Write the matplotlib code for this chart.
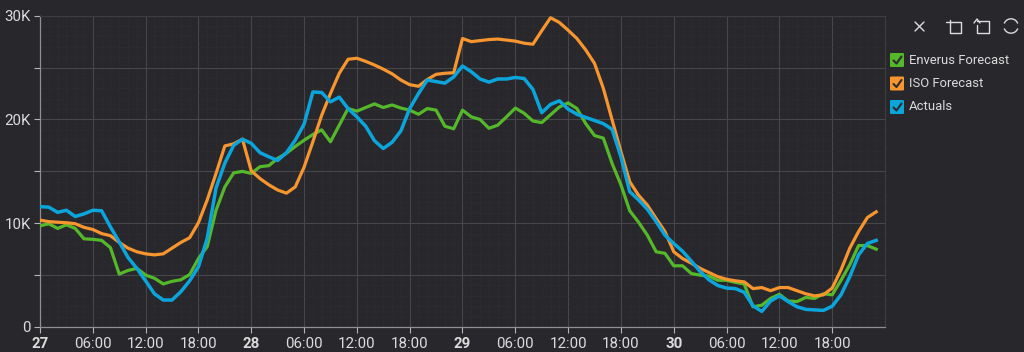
import matplotlib
matplotlib.use("Agg")
import matplotlib.pyplot as plt
from matplotlib.lines import Line2D
from matplotlib.patches import FancyBboxPatch, Arc
from matplotlib.ticker import FuncFormatter, MultipleLocator

plt.rcParams['font.family'] = ['Roboto', 'DejaVu Sans']

BG = '#28272c'
TEXT = '#dcdcdc'

# hourly values in thousands, starting at 00:00 on the 27th
actuals = [11.6, 11.55, 11.05, 11.25, 10.65, 10.9, 11.25, 11.2, 9.65, 8.2, 6.7, 5.65,
           4.45, 3.2, 2.6, 2.6, 3.4, 4.45, 5.8, 8.55, 13.4, 15.8, 17.5, 18.1,
           17.7, 16.8, 16.4, 16.05, 16.8, 18.0, 19.55, 22.65, 22.6, 21.7, 22.15, 21.05,
           20.25, 19.35, 17.95, 17.2, 17.8, 18.9, 21.05, 22.5, 23.8, 23.65, 23.5, 24.1,
           25.15, 24.6, 23.9, 23.6, 23.9, 23.9, 24.05, 23.95, 22.9, 20.65, 21.45, 21.8,
           21.0, 20.5, 20.2, 19.9, 19.6, 19.05, 16.4, 13.05, 12.25, 11.35, 10.15, 8.85,
           8.05, 7.3, 6.35, 5.35, 4.55, 4.0, 3.75, 3.7, 3.35, 2.05, 1.5, 2.5,
           3.0, 2.45, 1.95, 1.7, 1.65, 1.6, 2.0, 3.1, 4.85, 6.95, 8.05, 8.35]

iso_forecast = [10.3, 10.15, 10.1, 10.05, 9.95, 9.6, 9.4, 9.0, 8.8, 8.15, 7.6, 7.25,
                7.05, 6.95, 7.05, 7.6, 8.15, 8.6, 10.05, 12.25, 14.8, 17.45, 17.65, 18.1,
                15.05, 14.3, 13.7, 13.2, 12.9, 13.5, 15.4, 17.85, 20.4, 22.5, 24.45, 25.8,
                25.9, 25.6, 25.25, 24.85, 24.4, 23.8, 23.35, 23.2, 23.85, 24.35, 24.45, 24.5,
                27.8, 27.5, 27.6, 27.7, 27.75, 27.65, 27.55, 27.35, 27.25, 28.55, 29.8, 29.35,
                28.6, 27.8, 26.7, 25.4, 23.0, 19.95, 16.9, 14.0, 12.7, 11.75, 10.45, 9.2,
                7.25, 6.6, 6.15, 5.65, 5.25, 4.85, 4.6, 4.45, 4.35, 3.7, 3.8, 3.5,
                3.8, 3.8, 3.5, 3.2, 3.0, 3.1, 3.75, 5.5, 7.6, 9.2, 10.55, 11.1]

enverus_forecast = [9.75, 9.95, 9.5, 9.85, 9.5, 8.5, 8.45, 8.35, 7.65, 5.1, 5.45, 5.65,
                    5.0, 4.7, 4.15, 4.4, 4.55, 5.05, 6.6, 7.75, 11.25, 13.5, 14.85, 15.0,
                    14.8, 15.45, 15.55, 16.25, 16.75, 17.4, 18.0, 18.55, 19.0, 17.85, 19.45, 21.05,
                    20.8, 21.15, 21.5, 21.15, 21.4, 21.1, 20.9, 20.5, 21.05, 20.9, 19.35, 19.1,
                    20.9, 20.25, 20.0, 19.15, 19.45, 20.25, 21.1, 20.6, 19.85, 19.7, 20.45, 21.2,
                    21.6, 21.05, 19.6, 18.45, 18.2, 15.75, 13.7, 11.2, 10.1, 8.85, 7.25, 7.1,
                    5.9, 5.9, 5.15, 5.0, 4.9, 4.5, 4.5, 4.3, 4.15, 1.95, 2.1, 2.75,
                    3.15, 2.5, 2.45, 2.85, 2.75, 3.2, 3.1, 4.5, 6.0, 7.85, 7.85, 7.5]

hours = list(range(96))
series_names = ['Enverus Forecast', 'ISO Forecast', 'Actuals']
series_colors = ['#55b82a', '#f7952f', '#0ba5dc']
x_ticks = [0, 6, 12, 18, 24, 30, 36, 42, 48, 54, 60, 66, 72, 78, 84, 90]
x_labels = ['27', '06:00', '12:00', '18:00', '28', '06:00', '12:00', '18:00',
            '29', '06:00', '12:00', '18:00', '30', '06:00', '12:00', '18:00']

fig = plt.figure(figsize=(10.24, 3.52), dpi=100, facecolor=BG)
ax = fig.add_axes([40 / 1024, 1 - 327 / 352, 845 / 1024, 311.3 / 352], facecolor=BG)

ax.plot(hours, enverus_forecast, color=series_colors[0], lw=2.3, zorder=3)
ax.plot(hours, iso_forecast, color=series_colors[1], lw=2.3, zorder=4)
ax.plot(hours, actuals, color=series_colors[2], lw=2.5, zorder=5)

ax.set_xlim(0, 96)
ax.set_ylim(0, 30)
ax.set_xticks(x_ticks)
ax.set_xticklabels(x_labels)
ax.xaxis.set_minor_locator(MultipleLocator(1))
ax.yaxis.set_major_locator(MultipleLocator(5))
ax.yaxis.set_minor_locator(MultipleLocator(1))
ax.yaxis.set_major_formatter(FuncFormatter(
    lambda v, pos: '0' if v == 0 else ('%dK' % v if v % 10 == 0 else '')))

ax.grid(which='major', color='#47464b', lw=0.8, zorder=1)
ax.grid(which='minor', color='#333237', lw=0.5, ls=(0, (1, 1.5)), zorder=1)
ax.tick_params(which='minor', length=0)
ax.tick_params(which='major', color='#b5b5b5', length=4.5, width=0.8, labelcolor=TEXT,
               labelsize=10.8, pad=2.5)
ax.tick_params(axis='y', pad=2)
for lab, name in zip(ax.get_xticklabels(), x_labels):
    if ':' not in name:
        lab.set_fontweight('bold')
for side in ['top', 'right']:
    ax.spines[side].set_color('#3d3c41')
    ax.spines[side].set_linewidth(0.8)
for side in ['left', 'bottom']:
    ax.spines[side].set_color('#8f8f92')
    ax.spines[side].set_linewidth(0.9)


def px_line(xs, ys, color=TEXT, lw=1.0):
    fig.add_artist(Line2D([x / 1024 for x in xs], [1 - y / 352 for y in ys],
                          color=color, lw=lw, solid_capstyle='round',
                          transform=fig.transFigure))


# legend, drawn by hand to get the check boxes of the original
legend_y = [60, 83.5, 107]
for name, color, y in zip(series_names, series_colors, legend_y):
    fig.add_artist(FancyBboxPatch((890 / 1024, 1 - (y + 7) / 352), 14 / 1024, 14 / 352,
                                  boxstyle='round,pad=0,rounding_size=0.002',
                                  transform=fig.transFigure, facecolor=color, edgecolor='none'))
    px_line([893.5, 896.5, 901.5], [y + 0.5, y + 3.5, y - 3.5], color='#2b2b2b', lw=1.5)
    fig.text(909 / 1024, 1 - y / 352, name, color=TEXT, fontsize=9.4, va='center', ha='left')

# toolbox icons
px_line([915, 924], [22, 31])
px_line([915, 924], [31, 22])
px_line([950, 950, 961, 961, 950], [20, 33, 33, 22, 22])
px_line([946, 950], [22, 22])
px_line([977, 989, 989, 977, 977], [21, 21, 33, 33, 25])
px_line([974, 977, 980], [23, 19, 23])
icon_ax = fig.add_axes([1003 / 1024, 1 - 34 / 352, 16 / 1024, 16 / 352])
icon_ax.set_xlim(-1, 1)
icon_ax.set_ylim(-1, 1)
icon_ax.axis('off')
icon_ax.add_patch(Arc((0, 0), 1.8, 1.8, theta1=20, theta2=160, color=TEXT, lw=1.0))
icon_ax.add_patch(Arc((0, 0), 1.8, 1.8, theta1=200, theta2=340, color=TEXT, lw=1.0))

fig.savefig('out.png', dpi=100, facecolor=BG)
